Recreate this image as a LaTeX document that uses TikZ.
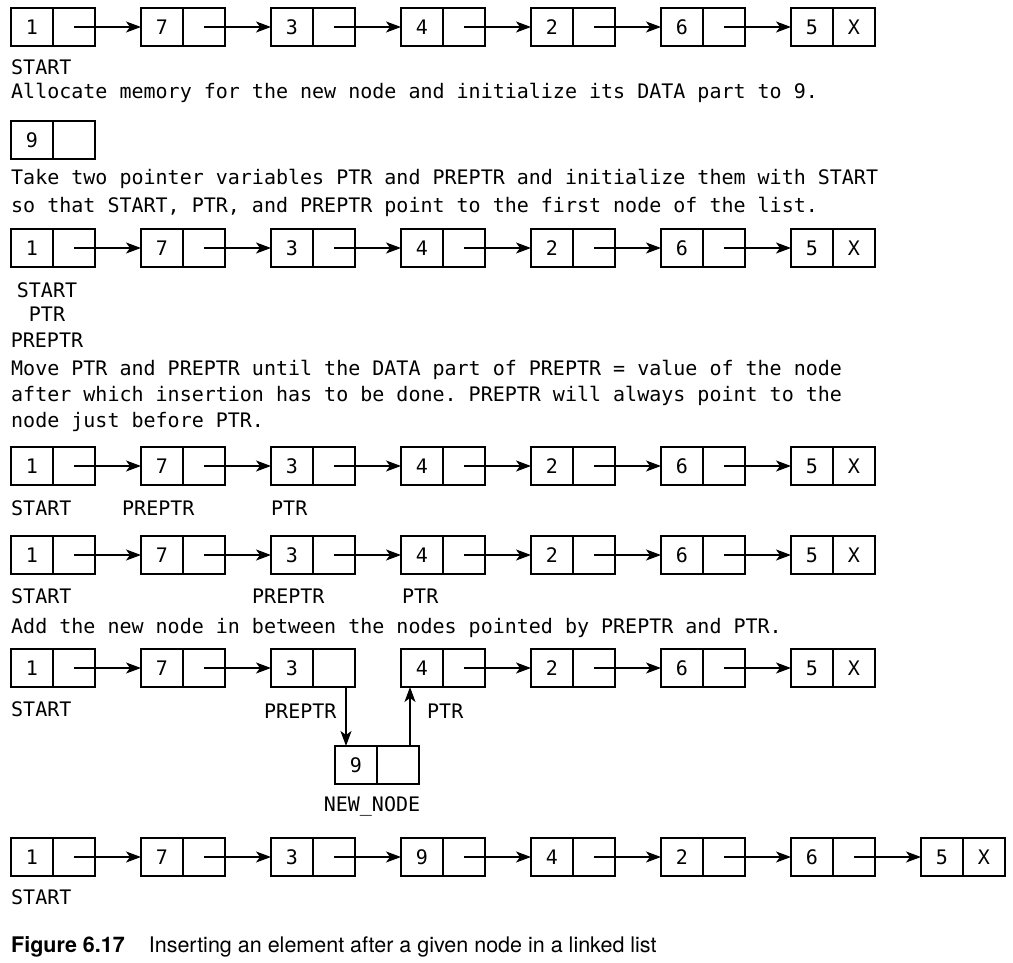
\documentclass[tikz,border=0pt]{standalone}
\usepackage{fontspec}
\setmonofont{DejaVu Sans Mono}
\newfontfamily\capfont{TeX Gyre Heros}
\usetikzlibrary{arrows.meta,positioning}
\newcommand{\monotext}{\ttfamily\fontsize{20}{24}\selectfont}
\newcommand{\makelist}[4]{
	\foreach \v [count=\i, remember=\i as \last (initially 0)] in {#4} {
		\node[cell] (d-#1-\i) at ({#2+21+130*(\i-1)},#3) {\v};
		\node[cell, right=0pt of d-#1-\i] (p-#1-\i) {};
		\ifnum\i>1 \draw[link] (p-#1-\last.center) -- (d-#1-\i.west); \fi
	}
}

\begin{document}
\begin{tikzpicture}[x=1pt,y=-1pt,
	cell/.style={draw, line width=1.2pt, minimum width=42pt, minimum height=38pt,
		inner sep=0pt, outer sep=0pt, font=\monotext},
	link/.style={line width=1.2pt, -{Stealth[length=15pt,width=11pt,inset=4pt]}},
	txt/.style={anchor=base west, inner sep=0pt, font=\monotext},
	ctxt/.style={anchor=base, inner sep=0pt, font=\monotext}]
	\useasboundingbox (0,0) rectangle (1013,963);

	\makelist{a}{11}{27}{1,7,3,4,2,6,5}
	\node[font=\monotext] (x-a) at (p-a-7) {X};
	\node[txt] (start-a) at (11,75) {START};
	\node[txt] (line-1) at (11,99) {Allocate memory for the new node and initialize its DATA part to 9.};

	\makelist{new}{11}{140}{9}
	\node[txt] (line-2) at (11,185) {Take two pointer variables PTR and PREPTR and initialize them with START};
	\node[txt] (line-3) at (11,212) {so that START, PTR, and PREPTR point to the first node of the list.};

	\makelist{b}{11}{248}{1,7,3,4,2,6,5}
	\node[font=\monotext] (x-b) at (p-b-7) {X};
	\node[ctxt] (start-b) at (47,297) {START};
	\node[ctxt] (ptr-b) at (47,321) {PTR};
	\node[ctxt] (preptr-b) at (47,347) {PREPTR};
	\node[txt] (line-4) at (11,375) {Move PTR and PREPTR until the DATA part of PREPTR = value of the node};
	\node[txt] (line-5) at (11,401) {after which insertion has to be done. PREPTR will always point to the};
	\node[txt] (line-6) at (11,427) {node just before PTR.};

	\makelist{c}{11}{466}{1,7,3,4,2,6,5}
	\node[font=\monotext] (x-c) at (p-c-7) {X};
	\node[txt] (start-c) at (11,515) {START};
	\node[txt] (preptr-c) at (122,515) {PREPTR};
	\node[txt] (ptr-c) at (271,515) {PTR};

	\makelist{d}{11}{555}{1,7,3,4,2,6,5}
	\node[font=\monotext] (x-d) at (p-d-7) {X};
	\node[txt] (start-d) at (11,603) {START};
	\node[txt] (preptr-d) at (252,603) {PREPTR};
	\node[txt] (ptr-d) at (402,603) {PTR};
	\node[txt] (line-7) at (11,633) {Add the new node in between the nodes pointed by PREPTR and PTR.};

	% list cut open between 3 and 4
	\makelist{e}{11}{668}{1,7,3}
	\makelist{f}{401}{668}{4,2,6,5}
	\node[font=\monotext] (x-f) at (p-f-4) {X};
	\node[txt] (start-e) at (11,716) {START};
	\node[txt] (preptr-e) at (264,718) {PREPTR};
	\node[txt] (ptr-e) at (427,718) {PTR};

	\makelist{g}{335}{765}{9}
	\node[ctxt] (newnode) at (372,811) {NEW\_NODE};
	\draw[link] ([xshift=12pt]p-e-3.south) -- ([xshift=12pt]p-e-3.south |- d-g-1.north);
	\draw[link] ([xshift=12pt]p-g-1.north) -- ([xshift=12pt]p-g-1.north |- d-f-1.south);

	\makelist{h}{11}{857}{1,7,3,9,4,2,6,5}
	\node[font=\monotext] (x-h) at (p-h-8) {X};
	\node[txt] (start-h) at (11,904) {START};

	\node[anchor=base west, inner sep=0pt, font=\capfont\fontsize{21.5}{26}\selectfont] (caption) at (11,952)
		{\textbf{Figure 6.17}\hspace{24pt}Inserting an element after a given node in a linked list};
\end{tikzpicture}
\end{document}
